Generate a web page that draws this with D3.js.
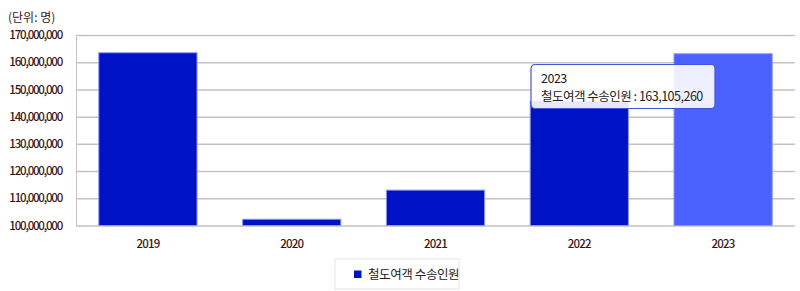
<!DOCTYPE html>
<html>
<head>
<meta charset="utf-8">
<script src="https://cdn.jsdelivr.net/npm/d3@7"></script>
<style>
    body { margin: 0; background: #fff; }
    svg text { font-family: "Noto Sans CJK KR", "Noto Sans", sans-serif; }
</style>
</head>
<body>
<div id="chart"></div>
<script>
var years = ['2019', '2020', '2021', '2022', '2023'];
var passengers = [163480000, 102300000, 113000000, 145700000, 163105260];
var yTicks = [100000000, 110000000, 120000000, 130000000, 140000000, 150000000, 160000000, 170000000];
var seriesName = '철도여객 수송인원';
var unitLabel = '(단위: 명)';
var hoverIndex = 4;

(function()
{
    var width = 800, height = 291,
        left = 76, right = 795, top = 35, bottom = 225.5;

    var svg = d3.select('#chart').append('svg')
        .attr('width', width)
        .attr('height', height);

    var x = d3.scaleBand().domain(years).range([left, right])
        .paddingInner(0.31).paddingOuter(0.155);
    var y = d3.scaleLinear().domain([100000000, 170000000]).range([bottom, top]);

    // grid + left axis
    var yAxis = d3.axisLeft(y).tickValues(yTicks)
        .tickSize(-(right - left)).tickPadding(14)
        .tickFormat(d3.format(','));

    var gy = svg.append('g').attr('transform', 'translate(' + left + ',0)').call(yAxis);
    gy.select('.domain').attr('stroke', '#cbc0c0').attr('d', 'M0.5,' + top + 'V' + bottom);
    gy.selectAll('.tick line').attr('stroke', '#cbc0c0').attr('stroke-width', 1.5);
    gy.selectAll('.tick text')
        .attr('fill', '#3b1414')
        .style('font-size', '11.5px')
        .style('font-weight', 500)
        .style('letter-spacing', '-1.2px');

    svg.append('text')
        .attr('x', 8).attr('y', 22)
        .attr('fill', '#3b1414')
        .style('font-size', '12px')
        .text(unitLabel);

    // bars
    svg.append('g').selectAll('rect').data(passengers).enter().append('rect')
        .attr('x', function(d, i) { return x(years[i]) + 0.5; })
        .attr('y', function(d) { return y(d); })
        .attr('width', x.bandwidth() - 1)
        .attr('height', function(d) { return bottom - y(d); })
        .attr('fill', function(d, i) { return i === hoverIndex ? '#4b61fd' : '#0012c6'; })
        .attr('stroke', '#8d97f5')
        .attr('stroke-width', 1);

    // x labels
    var gx = svg.append('g').attr('transform', 'translate(0,' + bottom + ')')
        .call(d3.axisBottom(x).tickSize(0).tickPadding(14));
    gx.select('.domain').remove();
    gx.selectAll('text')
        .attr('fill', '#3b1414')
        .style('font-size', '11.5px')
        .style('font-weight', 500)
        .style('letter-spacing', '-0.8px');

    // tooltip
    var tip = svg.append('g').attr('transform', 'translate(531,64.5)');
    tip.append('rect')
        .attr('width', 184).attr('height', 44)
        .attr('rx', 4)
        .attr('fill', 'rgba(255,255,255,0.9)')
        .attr('stroke', '#3f56d9')
        .attr('stroke-width', 1.2);
    tip.append('text').attr('x', 10).attr('y', 18)
        .attr('fill', '#222').style('font-size', '12.5px')
        .style('letter-spacing', '-0.5px')
        .text(years[hoverIndex]);
    tip.append('text').attr('x', 10).attr('y', 36)
        .attr('fill', '#222').style('font-size', '12.5px')
        .style('letter-spacing', '-0.5px')
        .text(seriesName + ' : ' + d3.format(',')(passengers[hoverIndex]));

    // legend
    var lg = svg.append('g').attr('transform', 'translate(335,259)');
    lg.append('rect')
        .attr('width', 124).attr('height', 30)
        .attr('fill', '#fff')
        .attr('stroke', '#e4e4e8');
    lg.append('rect')
        .attr('x', 19).attr('y', 11.5)
        .attr('width', 7.5).attr('height', 7.5)
        .attr('fill', '#0012c6');
    lg.append('text')
        .attr('x', 33).attr('y', 19.5)
        .attr('fill', '#222')
        .style('font-size', '12.5px')
        .style('letter-spacing', '-0.4px')
        .text(seriesName);
})();
</script>
</body>
</html>
